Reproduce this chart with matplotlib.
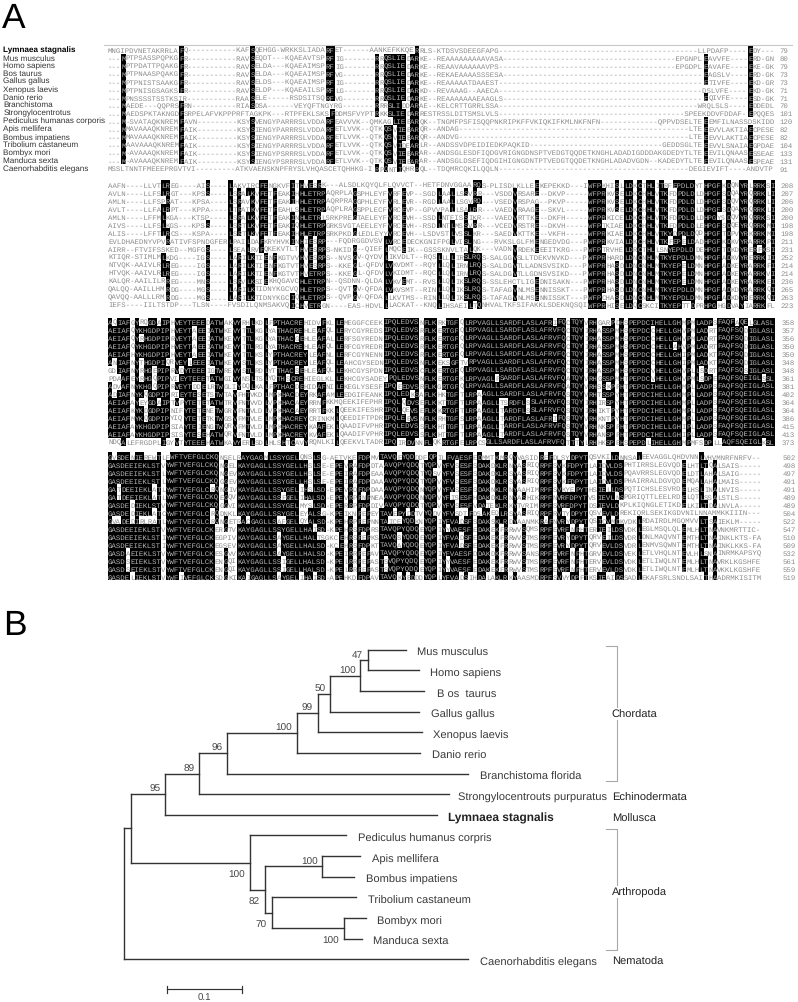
from collections import Counter
import matplotlib
matplotlib.use("Agg")
import matplotlib.pyplot as plt

plt.rcParams['font.family'] = ['Liberation Sans', 'DejaVu Sans']
plt.rcParams['text.hinting'] = 'none'

# species labels of the alignment
align_names = ["Lymnaea stagnalis", "Mus musculus", "Homo sapiens", "Bos taurus", "Gallus gallus",
               "Xenopus laevis", "Danio rerio", "Branchistoma", "Strongylocentrotus",
               "Pediculus humanas corporis", "Apis mellifera", "Bombus impatiens",
               "Tribolium castaneum", "Bombyx mori", "Manduca sexta", "Caenorhabditis elegans"]

# alignment, 4 blocks of 16 rows
block1 = [
    "MNGIPDVNETAKRRLAFQ" + "-" * 11 + "KAFSQEHGG-WRKKSLIADARFET" + "-" * 6 + "AANKEFKKQERRLS-KTDSVSDEEGFAPG" + "-" * 45 + "LLPDAFP----EDY---",
    "---MPTPSASSPQPKGFR" + "-" * 11 + "RAVSEQDT---KQAEAVTSPRFIG" + "-" * 7 + "RRQSLIEDARKE--REAAAAAAAAAVASA" + "-" * 39 + "EPGNPLEAVVFE----ERD-GN",
    "---MPTPDATTPQAKGFR" + "-" * 11 + "RAVSELDA---KQAEAIMSPRFIG" + "-" * 7 + "RRQSLIEDARKE--REAAVAAAAAAVPS" + "-" * 40 + "EPGDPLEAVAFE----EKE-GK",
    "---MPTPNAASPQAKGFR" + "-" * 11 + "RAVSELDA---KQAEAIMSPRFVG" + "-" * 7 + "RRQSLIEDARKE--REKAEAAAASSSESA" + "-" * 45 + "EAGSLV----ERD-GK",
    "---MPTPNISTSAAKGFR" + "-" * 11 + "RAVSELDS---KQAEAIMSPRFIG" + "-" * 7 + "RRQSLIEDARKE--REAAAAATDAAEST" + "-" * 46 + "ETIVFE----EKD-GR",
    "---MPTPNISGSAGKSFR" + "-" * 11 + "RAVSELDP---KQAEAILSPRFLG" + "-" * 7 + "RRQSLIEDARKD--REVAAAG--AAECA" + "-" * 46 + "DSLVFE----EKD-GK",
    "---MPNSSSSTSSTKSIR" + "-" * 11 + "RAASELE-----RSDSITSQRFVG" + "-" * 7 + "RRQSLIEDARKE--REAAAAAAAEAAGLS" + "-" * 45 + "EQIVFE----ESD-GK",
    "---MAEDE---QQPRSFRN" + "-" * 10 + "RIASDSA------VEYQFTNGYRG" + "-" * 7 + "RRRSLIDDARAE--KELCRTTGRRLSSA" + "-" * 45 + "WRQLSLS----EDDEDL",
    "---MAEDSPKTAKNGDFSRPELAFVKPPPRFTAGKPK---RTPFEKLSKSFDDMSFVYPTRKKSLIEDARRESTRSSLDITSMSLVLS" + "-" * 42 + "SPEEKDDVFDDAF-EPQQES",
    "---M-SVATAQKNREMFAVN" + "-" * 9 + "KSYSVENGYPARRRSLVDDARFEAVVVK--QMKAGLIEEARQK--TNGMFPSFISQQPNKRIPKFFVKIQKIFKMLNKFNFN" + "-" * 13 + "QPPVDSELTEEEMFILNASSDSKIDD",
    "---MMAVAAAQKNREMFAIK" + "-" * 9 + "KSYSIENGYPARRRSLVDDARFETLVVK--QTKQSVIEEARQR--ANDAG" + "-" * 52 + "LTEEEVVLAKTIAECPESE",
    "---MMAVAAAQKNREMFAIK" + "-" * 9 + "KSYSIENGYPARRRSLVDDARFETLVVK--QTKQSVIEEARQR--ANDVG" + "-" * 52 + "LTEEEVVLAKTIAECPESE",
    "---MAAVAAAQKNREMFAIK" + "-" * 9 + "KSYSIENGYPARRRSLVDDARFETLVVK--QTKQSVIDEARLR--ANDSSVDPEIDIEDKPAQKID" + "-" * 30 + "GEDDSGLTEEEVVLSNAIAEGPDAE",
    "---M-AVAAAQKNREMFAIK" + "-" * 9 + "KSYSIENGYPSRRRSLVDDARFETLVVK--QTKQSVIEEARAR--ANDSGLESDFIQDGVRIGNGDNSPTVEDGTQQDETKNGHLADADIGDDDAKGDEDYTLTEEEVILQNAASESSEAE",
    "---M-AVAAAQKNREMFAIK" + "-" * 9 + "KSYSIENGYPSRRRSLVDDARFETLVVK--QTKQSVIEEARAR--ANDSGLDSEFIQDGIHIGNGDNTPTVEDGTQQDETKNGHLADADVGDN--KADEDYTLTEEEVILQNAASESPEAE",
    "MSSLTNNTFMEEEPRGVTVI" + "-" * 9 + "ATKVAENSKNPFRYSLVHQASCETQHHKG-IRPQNTIQHRRQL--TDQMRCQKILQQLN" + "-" * 43 + "DEGIEVIFT----ANDVTP",
]
block1_ends = [79, 80, 79, 73, 73, 71, 71, 70, 101, 120, 82, 82, 104, 133, 131, 91]

block2 = [
    "AAFN----LLVTLREG----AIS----LAKVIRCFENGKVFITHVESRK---ALSDLKQYQLFLQVVCT--HETFDNVGGAARQS-PLISDLKLLEEKEPEKKD---IWFPKHISLLDKCTHLITRFEPDLDYTHPGFKDQNYRLRRKSI",
    "AVLN----LLFSLRGT---KPSS----LSRALKVFETFEAKIHHLETRPAQRPLAGSPHLEYFVRFEVP--SGDLAALLSSVRR---VSDDVRSARE--DKVP-----WFPRKVSELDKCHHLVTKFDPDLDLDHPGFSDQAYRQRRKLI",
    "AMLN----LLFSPRAT---KPSA----LSRAVKVFETFEAKIHHLETRPAQRPRAGGPHLEYFVRLEVR--RGDLAALLSGVRQ---VSEDVRSPAG--PKVP-----WFPRKVSELDKCHHLVTKFDPDLDLDHPGFSDQVYRQRRKLI",
    "AVLT----LLFALRPT---KPPA----LTRAIKVFETFEAHLSHLETRPAQPLRAGSPPLECFVRCEVP--GPVVPALLSALRR---VAEDVRAAGE--SKVL-----WFPRKVSELDKCHHLVTKFDPDLDLDHPGFSDQAYRQRRKLI",
    "AMLN----LFFMLKGA---KTSP----LSRALKVFETFEAKINHLETRLSRKPREGTAELEYFVRCEVH--SSDLNTFISSIKR---VAEDVRTTKE--DKFH-----WFPRKICELDKCHHLVTKFDPDLDLDHPGYSDQVYRQRRKSI",
    "AIVS----LLFSLKGS---KPSS----LSRTLKVFETFEAKIQHLETRPGRKSVGTAEELEYFVRCEVH--RSDLNTLMSSVRR---VCEDVRSTRE--DKVH-----WFPTKIAELDKCHHLVTKFDPDLDLEHPGFSDQEYRQRRKMI",
    "ALIS----LFFTLRCS---KSPA----LSRTLKVFETFEAKIHHLETRPSRKPKDGLEDLEYYVRCEVH--LSDVSTLVSSLKR---SAEDVKTTKE--VKFH-----WFPRKIAELDKCHHLVTKYDPDLDQDHPGFTDPVYRKRRKMI",
    "EVLDHAEDNYVPVRATIVFSPNDGFERLPAILDAFKRYHVKINHIESRP---FQDRGGDVSVLVRCEDECKGNIFPGLVISLNG---RVKSLGLFMENGEDVDG---PWFPRKVIALDKCHHLVTKFEPELDADHPGFKDKVYRARRKPI",
    "AIRR--FTVIFSSKED--MGFGS----LSEALRVFQKEKVTLTHVESRPS-NKIDG--QIEFLMQCEIK--GSSSKNVLTALQK---VADNVRDEKEEEITKRG---PWFPTRVHELDRCTHLLSNYEPDLDDEHPGFTDKDYRERFKSI",
    "KTIQR-STIMLMLKDG----IGS----LARILKTIENFKGTVVHVESRPS--NVSGV-QYDVLIKVDLT--RQSLLLLIRSLRQS-SALGGVSLLTDEKVNVKD---PWFPRHARDLDNCNHLMTKYEPDLDMNHPGFADKVYRERRKII",
    "NTVQK-AAIVLRLREG----IGS----LARILKTIENFKGTVTHVESRPS--KKEGL-QFDVLVKVDMT--RQYLLQLIRNLRQS-SALDGVTLLADNSVSIKD---PWFPRHASDLDNCNHLMTKYEPELDMNHPGFADKEYRARRKFI",
    "HTVQK-AAIVLRLREG----IGS----LARILKTIENFKGTVTHVETRPS--KKEGL-QFDVLVKIDMT--RQCLLQLIRNLRQS-SALDGVTLLGDNSVSIKD---PWFPRHASDLDNCNHLMTKYEPELDMNHPGFADKEYRARRKVI",
    "KALQR-AAILILRREG----MNS----LSRVLKSIEKHQGAVCHLETRPN--QSDNN-QLDALVKVEMT--RVSLLQLIKSLRQS-SSLEHCTLIGEDNISAKN---PWFPRHASDLDNCNHLMTKYEPELDMNHPGFADKEYRARRKEI",
    "QALQQ-AAILLHMRDG----MGS----LARILKTIDNYKGCVQHLETRPS--QVTGV-QFDALVKVSMT--RINLLQLIKSLRQS-TAFAGVNLMSENNISSKT---PWFPRHASDLDNCNHLMTKYEPDLDMNHPGFADKDYRARRKQI",
    "QAVQQ-AALLLRMRDG----MGS----LARILKTIDNYKGCIQHLETRPS--QVPGV-QFDALLKVTMS--RINLLQLIKSLRQS-TAFAGVNLMSENNISSKT---PWFPCHASDLDNCNHLMTKYEPDLDMNHPGFADKDYRERRKQI",
    "IEFS----IILTSTDP---TLSN----FVSDILQNMSAKVQICHVETRGN----EAS-HDVLLLACKAT--KNQLIHSAEILTQNHVALTKFSIFAKKLSDEKNQSQIWFPRHISELDQCSKCITKYEPTTDPRHPGHGDVAYIARRKFL",
]
block2_ends = [208, 207, 206, 200, 200, 198, 198, 211, 231, 252, 214, 214, 236, 265, 263, 223]

block3 = [
    "AQIAFGYRQGDAIPHVEYTEEEDATWAKVYRHLKDLFPTHACREHIDVFKLLEMEGGFCEEKIPQLEDVSNFLKRKTGFQLRPVAGLLSARDFLASLAFRIFQCTQYVRHGARPDHSPEPDCIHELLGHMPMLADPSFAQFAQELGLASL",
    "AEIAFQYKHGDPIPHVEYTAEEIATWKEVYTTLKGLYATHACREHLEAFQLLERYCGYREDSIPQLEDVSRFLKERTGFQLRPVAGLLSARDFLASLAFRVFQCTQYIRHASSPMHSPEPDCCHELLGHVPMLADRTFAQFSQDIGLASL",
    "AEIAFQYRHGDPIPRVEYTAEEIATWKEVYTTLKGLYATHACGEHLEAFALLERFSGYREDNIPQLEDVSRFLKERTGFQLRPVAGLLSARDFLASLAFRVFQCTQYIRHASSPMHSPEPDCCHELLGHVPMLADRTFAQFSQDIGLASL",
    "AEIAFQYKHGDPIPHVEYTAEEIATWKEVYTTLRGLYATHACREHLEAFQLLERFCGYREDRIPQLEDVSRFLKERTGFQLRPVAGLLSARDFLASLAFRVFQCTQYIRHASSPMHSPEPDCCHELLAHVPMLADRTFAQFSQDIGLASL",
    "AEIAFHYKHGDPIPHVEYTAEEIATWKEVYTTLKSLYPTHACREYLEAFNLLERFCGYNENNIPQLEDVSRFLKERTGFQLRPVAGLLSARDFLASLAFRVFQCTQYIRHASSPMHSPEPDCCHELLGHIPMLADKTFAQFSQDIGLASL",
    "ANIAFNYTHGDPIQRVEYLEEEIATWKEVYSTLKSLYPTHACREYLEAFQLLEAHCGYSEDNIPQLEDVSNFLKEKSGFTVRPVAGLLSARDFLASLAFRVFQCTQYIRHASSPMHSPEPDCCHELLGHIPMLADKTFAQFSQDIGLASL",
    "GDIAFNYRHGEPIPRVDYTEEEIGTWREVYSTLRDLYTTHACSEHLEAFQLLEKHCGYSPDNIPQLEDVSCFLKERTGFQLRPVAGLLSARDFLASLAFRVFQCTQYIRHASSPMHSPEPDCVHELLGHVPLLSDRTFAQFSQSIGLASL",
    "PDAAFEYRHGQPIPVIEYTEEETATWGIVYNSLTSLYQTHSCREHIEGLKLLEKHCGYSADEYPQLEDVSNFLKERTGFKLRPVAGLFSARDFLASLAFRVFQATQYVRHGSSPMHTPEPDCVHELLGHVPMLSDPEFAQFSQEIGLSSL",
    "ADVAFNYKHGQPIPRVEYTDDELRTWGLIYDQLKALFPTHACDEHIDAFNILEKEGLYSESFIPQEEDVSRFLKGRTGFQLRPVAGLLSARDFLASLAFRVFQATQYVRHSSKPFHTPEPDCIHELLGHMPLLADPSFAQFSQEIGLASL",
    "ADIAFNYKQGDPIPRIEYTESETSTWTAVFHTVKDLMPKHACDEYRKAFAMLEEDGIFEANKIPQLEDKSAFLKHKTGFTLRPAAGLLSARDFLASLAFRVFQSTQYVRHTSSPYHTPEPDCIHELLGHMPLLADPSFAQFSQEIGLASL",
    "AEIAFAYEYGDAIPTVPYTETETATWTRVFNTVVDLVPKHACAEYRRNFKKMQEEKIFEPHRIPQLQDVSEFLKKTTGFTLRPAAGLLTSRDFLSSLAFRVFQSTQYIRHIRSPYHTPEPDCIHELLGHMPLLADPSFAQFSQEIGLASL",
    "AEIAFKYKDGDPIPNIFYTETENETWGRVFNTVLDLVPKHACAEYRRTFKKLQEEKIFESHRIPQLQEVSEFLKKRTGFTLRPAAGLLTARDFLSSLAFRVFQSTQYIRHIKTPYHTPEPDCIHELLGHMPLLADPSFAQFSQEIGLASL",
    "AEIAFMYKQGDPIPYIQYTETETKTWGSVFMTVLELMPKHACREYCRINKMLQEEDIFTPDRIPQLEEVSNFLKRHTGFSLRPAAGLLTARDFLASLAFRIFQSTQYVRHKNTPYHTPEPDCIHELLGHMPLLADPSFAQFSQEIGLASL",
    "AEIAFAYKHGDPIPSIAYTEIENGTWQRVFMTVLDLMPKHACREYKAAFEKLQAADIFVPHRIPQLEDVSSFLKHTTGFTLRPAAGLLTARDFLASLAFRVFQSTQYVRHNKSPFHTPEPDCIHELLGHIPLLADPSFAQFSQEIGLASL",
    "AEIAFAYKHGDPIPSISYTESEHATWQRVFNTVLDLMPKHACREYKVAFEKLQAADIFVPHRIPQLEDVSSFLKHTTGFTLRPAAGLLTARDFLASLAFRVFQSTQYVRHANSPFHTPEPDCIHELLGHIPLLADPSFAQFSQEIGLASL",
    "NDQALEFRGDPLIGYVTYTEEEHATWKAVYERLSDLHLSHTCAVYRQNLKILQEEKVLTADRIPQIRDVNNFLQKRTGFELRPCSGLLSARDFLASLAFRVFQTTTYLRHHKSPEHSPEPDLIHELLGHMPMFSDPLLAQFSQEIGLKSL",
]
block3_ends = [358, 357, 356, 350, 350, 348, 348, 361, 381, 402, 364, 364, 386, 415, 413, 373]

block4 = [
    "GVSDENIEREWTLFWFTVEFGLCKQNSELRAYGAGMLSSYGELQNSLSG-AETVKEFDPMVTAVQEYQDDDFQPILFVAESFEDMMTKMRQYVASIDREFDLSYDPYTQSVKILDNNSALEEVAGGLQHDVNNLVHVMNRFNRFV--",
    "GASDEEIEKLSTVYWFTVEFGLCKQNGELKAYGAGLLSSYGELLHSLSE-EPEVRAFDPDTAAVQPYQDQTYQPVYFVSESFSDAKDKLRNYASRIQRPFSVKFDPYTLAIDVLDSPHTIRRSLEGVQDELHTLTQALSAIS-----",
    "GASDEEIEKLSTLYWFTVEFGLCKQNGEVKAYGAGLLSSYGELLHSLSE-EPEIRAFDPEAAAVQPYQDQTYQSVYFVSESFSDAKDKLRSYASRIQRPFSVKFDPYTLAIDVLDSPQAVRRSLEGVQDELDTLAHALSAIG-----",
    "GASDEEIEKLSTLYWFTVEFGLCKQGGEVKAYGAGLLSSYGELLHSLSE-EPEIRAFDPDAAAVQPYQDQTYQPVYFVSESFSDAKDKLRSYASRIQRPFSVKFDPYTLAIDVLDSPHAIRRALDGVQDEMQALAHALMAIS-----",
    "GATDEEIEKLATLYWFTVEFGLCRQNGIVKAYGAGLLSSYGELIHSLSD-EPEVRDFDPDAAAVQPYQDQNYQPVYFVSESFSDAKNKLRNYAAHIMRPFSVKYEPYTHSIELLDSPQTICHSLESVRDELHSLINALNVIS-----",
    "GATDEEIEKLATLYWFTVEFGLCKQEGQVKAYGAGLLSSFGELIHALSD-EPEVRPFNPNEAAVQPYQDQNYQPVYFISESFHDAKDKLRNYASHIKRPFNVRFDPYTVSIEVLNSPGRIQTTLEELRDELQTLSSALSTLS-----",
    "GASDEDIEKLSTVYWFTVEFGLCKQGGVIKAYGAGLLSSYGELMYSLSD-EPERRPFDPDIVAVQPYQDQTYQPVYFVSESFVDATEKLRKYTVRIMRPFSVRFDPYTDSIEVLDKPLKIQNGLETIKDELKILTDALNVLA-----",
    "GASDEDIEKLATCYWFTVEFGLCRQDNKLKAYGAGLLSSYGELEYALSG-KPEIKNFEPEYTAVEPYDDTVYQDVYFVSDTFDSAKEQLRSYASRIQRPFRVTYDPYTQSVEVLDREKIQRLSEKIKGDVNILNNAMMKKIIIN---",
    "GVADEDIRLRATLYWFTVEFGLCRQNGETRACGAGLLSAFGELQYALSD-KPEHRPFEPNNTAICEYQDKNYQPIYFVADSFSDAKSKLRDYAANMKRAFNVRYDPYTQSICVMDKVDKLRDAIRDLMGQMVVLTSAIEKLM-----",
    "GASDEEIEKLSTVYWFTVEFGLCKERGTVKAYGAGLLSSYGELLHAISD-KPEHRSFDPRSTAVQPYQDQEYQPIYYVAESFEDAKEKFRRWVSQMSRPFEVRFNPHTERIEILDSVDKLEGLMSQLQLEMLHLTNAVNKMRTTIC-",
    "GASDEEIEKLSTIYWFTVEFGLCKEGPIVKAYGAGLLSAYGELLHALTSGKCEHRSFEPKSTAVQSYQDQEYQPIYFVADSFEDAKEKFRRWVSTMSRPFEVRYDPYTQRVEILDSVDRLDNLMAQVNTEMTHLTNAINKLKTS-FA",
    "GASDEEIEKLSTIYWFTVEFGLCKEGSEVKAYGAGLLSAYGELLHALSD-KCEHRSFDPKTTAVQAYQDQEYQPIYFVADSFEDAKEKFRRWVSTMSRPFEVRYDPYTQRVEVLDSVDRLENMVSQWNTEMTHLTNAINKLKKS-FA",
    "GASDAEIEKLSTVYWFTVEFGLCKESGVVKAYGAGLLSAYGELLHALSD-KPEIRRFEPAVTAVQPYQDQEYQPIYFVAESFDDAKDKFRRWVSANSRPFEVRFNPHTGRVEVLDSVEKLETLVHQLNTEVLHLSNAINRMKAPSYQ",
    "GASDSEIEKLSTVYWFTVEFGLCKENGQIKAYGAGLLSSIGELLHALSD-KPELRRFEPASTSVQPYQDQEYQPIYYVAESFEDAKEKFRRWVSTMSRPFEVRFNPHTERVEVLDSVDKLETLIWQLNTEMLHLTNAVRKLKGSHFE",
    "GASDSEIEKLSTVYWFTVEFGLCKENGQIKAYGAGLLSSIGELLHALSD-KPELRRFEPASTSVQPYQDQEYQPIYYVAESFEDAKEKFRRWVSTMSRPFEVRFNPHTERVEVLDSVDKLETLIWQLNTEMLHLTNAVKKLKGSHFE",
    "GASDELIEKLSTVYWFIVEFGLCKSDGKIKAIGAGLLSAYGELIHAISD-APEHKDFDPAVTAVQKYEDDDYQPLYFVADSIHDALAKLRKYAASMDRPFSVVYDPFTKSIEAIDSSADLEKAFSRLSNDLSAITHAADRMKISITM",
]
block4_ends = [502, 498, 497, 491, 491, 489, 489, 504, 522, 547, 510, 509, 532, 561, 559, 519]

# tree: tips top to bottom, then every node with parent and distance from root
tip_names = ["Mus musculus", "Homo sapiens", "B os  taurus", "Gallus gallus", "Xenopus laevis", "Danio rerio",
             "Branchistoma florida", "Strongylocentrouts purpuratus", "Lymnaea stagnalis",
             "Pediculus humanus corpris", "Apis mellifera", "Bombus impatiens", "Tribolium castaneum",
             "Bombyx mori", "Manduca sexta", "Caenorhabditis elegans"]
node_names = ["root", "A", "B", "C", "D", "E", "F", "G", "H", "I", "J", "K", "L", "M", "N"] + tip_names
node_parents = [None, "root", "A", "B", "C", "D", "E", "F", "G", "H", "A", "J", "K", "K", "M",
                "I", "I", "H", "G", "F", "E", "D", "C", "B", "J", "L", "L", "M", "N", "N", "root"]
node_depths = [0, 0.0093, 0.0543, 0.1, 0.1369, 0.2299, 0.2579, 0.2743, 0.3147, 0.3245, 0.1672, 0.1872, 0.264, 0.1965, 0.2925,
               0.3756, 0.3925, 0.3996, 0.3933, 0.3969, 0.3943, 0.4583, 0.4329, 0.4169, 0.2952, 0.3147, 0.3063, 0.3085, 0.3219, 0.3165, 0.4583]
support_above = {"I": 47, "H": 100, "G": 50, "F": 99, "E": 100, "D": 96, "C": 89, "B": 95, "L": 100}
support_below = {"J": 100, "K": 82, "M": 70, "N": 100}
clade_names = ["Chordata", "Echinodermata", "Mollusca", "Arthropoda", "Nematoda"]

# layout, in pixels
tip_label_x = [417, 429.7, 437.3, 430.7, 433.3, 431.7, 480, 458.3, 448.3, 357.7, 372, 365.7, 367.7, 377, 373.3, 480]
clade_label_pos = [(611.7, 717.5), (611.7, 801), (612.3, 822), (612.3, 895.5), (612.3, 964.5)]
brackets = [(646.7, 781.7), (830.3, 951.3)]
block_tops = [50.7, 185.3, 322.7, 457.3]
block_pitch = [7.9, 8.03, 8.0, 8.0]
label_y = [50, 58.3, 65.7, 74, 81, 89.7, 98, 105, 112.7, 120.7, 129.3, 137.7, 145, 152.7, 160.7, 169.3]
seq_x0 = 108
cell_w = 4.447
num_x = [779.5, 780, 782, 783]
root_x = 124.3
px_per_unit = 750
tip_y0 = 650.7
tip_pitch = 20.64
SHADE_MIN = 9

fig = plt.figure(figsize=(7.98, 10.03), dpi=100)
ax = fig.add_axes([0, 0, 1, 1])
ax.set_xlim(0, 798)
ax.set_ylim(1003, 0)
ax.axis("off")

ax.text(2, 27.5, "A", fontsize=25.5, color="black", va="baseline")
ax.text(3, 635, "B", fontsize=25.5, color="black", va="baseline")

# Block A ------------------------------------------------------------
ax.plot([104, 792], [46.3, 46.3], color="#c8c8c8", lw=0.8)

for i, name in enumerate(align_names):
    bold = i == 0
    ax.text(3.3, label_y[i] + 2.3, name, fontsize=5.9, va="baseline",
            color="black" if bold else "#333333", fontweight="bold" if bold else "normal")


def shaded_cells(rows):
    # a cell goes black when it has the column's commonest residue, and enough rows share it
    out = [[False] * len(r) for r in rows]
    for c in range(max(len(r) for r in rows)):
        letters = [r[c] for r in rows if r[c] != "-"]
        if not letters:
            continue
        top, count = Counter(letters).most_common(1)[0]
        if count >= SHADE_MIN:
            for i, r in enumerate(rows):
                out[i][c] = r[c] == top
    return out


for b, (rows, ends) in enumerate(zip([block1, block2, block3, block4],
                                     [block1_ends, block2_ends, block3_ends, block4_ends])):
    bad = [(i, len(r)) for i, r in enumerate(rows) if len(r) != len(rows[0])]
    if bad:
        raise ValueError(f"block {b + 1}: {len(rows[0])} {bad}")
    shade = shaded_cells(rows)
    for i, row in enumerate(rows):
        y = block_tops[b] + i * block_pitch[b]
        runs = []
        c = 0
        while c < len(row):
            e = c
            while e < len(row) and shade[i][e] == shade[i][c]:
                e += 1
            runs.append((c, e, shade[i][c]))
            c = e
        bars = [(seq_x0 + s * cell_w, (e - s) * cell_w) for s, e, on in runs if on]
        if bars:
            ax.broken_barh(bars, (y - block_pitch[b] / 2, block_pitch[b]), facecolors="black", linewidth=0)
        for s, e, on in runs:
            ax.text(seq_x0 + s * cell_w, y + 2.4, row[s:e], family="Liberation Mono", fontsize=5.34,
                    color="#b4b4b4" if on else "#8c8c8c", va="baseline", ha="left")
        ax.text(num_x[b], y + 2.4, str(ends[i]), family="Liberation Mono", fontsize=5.34,
                color="#8c8c8c", va="baseline")

# Block B ------------------------------------------------------------
parent_of = dict(zip(node_names, node_parents))
depth_of = dict(zip(node_names, node_depths))
children = {n: [c for c in node_names if parent_of[c] == n] for n in node_names}


def node_x(name):
    return root_x + depth_of[name] * px_per_unit


def node_y(name):
    if name in tip_names:
        return tip_y0 + tip_names.index(name) * tip_pitch
    kids = children[name]
    return (node_y(kids[0]) + node_y(kids[-1])) / 2


line_kw = dict(color="#333333", lw=1.0, solid_capstyle="projecting")
for name in node_names:
    if parent_of[name] is not None:
        ax.plot([node_x(parent_of[name]), node_x(name)], [node_y(name)] * 2, **line_kw)
    if children[name]:
        ax.plot([node_x(name)] * 2, [node_y(children[name][0]), node_y(children[name][-1])], **line_kw)

for name, value in support_above.items():
    ax.text(node_x(name) - 4.7, node_y(name) - 3, str(value), fontsize=7.2, color="#444444", ha="right", va="baseline")
for name, value in support_below.items():
    ax.text(node_x(name) - 4.7, node_y(name) + 14.5, str(value), fontsize=7.2, color="#444444", ha="right", va="baseline")

for i, name in enumerate(tip_names):
    bold = name == "Lymnaea stagnalis"
    ax.text(tip_label_x[i], node_y(name) + 5.4, name, fontsize=8.6 if bold else 8, va="baseline",
            color="#222222" if bold else "#3a3a3a", fontweight="bold" if bold else "normal")

for top, bottom in brackets:
    ax.plot([606, 617.3, 617.3, 606], [top, top, bottom, bottom], color="#a8a8a8", lw=0.8)
for (x, y), name in zip(clade_label_pos, clade_names):
    ax.text(x, y, name, fontsize=8, color="#222222", va="baseline",
            bbox=dict(facecolor="white", edgecolor="none", pad=0.6))

# scale bar, 0.1 tree units
scale_len = 0.1 * px_per_unit
ax.plot([167.3, 167.3 + scale_len], [990, 990], color="#333333", lw=0.85)
for x in (167.3, 167.3 + scale_len):
    ax.plot([x, x], [986.5, 993.5], color="#333333", lw=0.85)
ax.text(204.7, 1000.5, "0.1", fontsize=7, color="#444444", ha="center", va="baseline")

fig.savefig("out.png", dpi=100)
